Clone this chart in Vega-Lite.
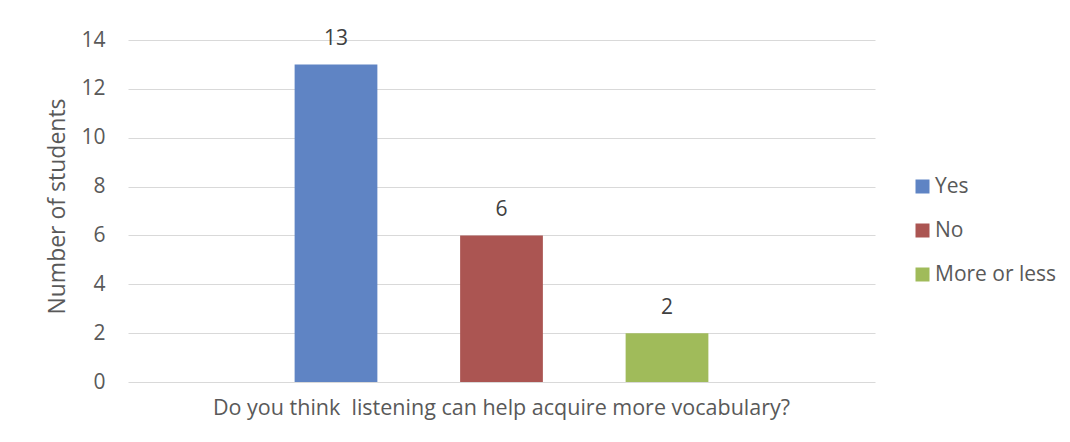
{
  "$schema": "https://vega.github.io/schema/vega-lite/v6.json",
  "width": 747,
  "height": 342,
  "autosize": {"type": "none"},
  "padding": {"left": 128, "top": 40, "right": 195, "bottom": 60},
  "background": "white",
  "config": {
    "font": "Open Sans",
    "view": {"stroke": null},
    "axis": {"labelColor": "#595959", "titleColor": "#595959", "labelFont": "Open Sans", "titleFont": "Open Sans"}
  },
  "data": {
    "values": [
      {"question": "Do you think\u00a0 listening can help acquire more vocabulary?", "answer": "Yes", "students": 13},
      {"question": "Do you think\u00a0 listening can help acquire more vocabulary?", "answer": "No", "students": 6},
      {"question": "Do you think\u00a0 listening can help acquire more vocabulary?", "answer": "More or less", "students": 2}
    ]
  },
  "encoding": {
    "x": {
      "field": "question",
      "type": "nominal",
      "scale": {"paddingInner": 0, "paddingOuter": 0.4027},
      "axis": {
        "title": null,
        "labelAngle": 0,
        "domain": false,
        "ticks": false,
        "labelFontSize": 21.5,
        "labelPadding": 15,
        "labelLimit": 0
      }
    },
    "xOffset": {
      "field": "answer",
      "type": "nominal",
      "sort": ["Yes", "No", "More or less"],
      "scale": {"paddingInner": 0.5, "paddingOuter": 0}
    },
    "y": {
      "field": "students",
      "type": "quantitative",
      "scale": {"domain": [0, 14], "nice": false},
      "axis": {
        "values": [0, 2, 4, 6, 8, 10, 12, 14],
        "title": "Number of students",
        "titleFontSize": 23,
        "titleFontWeight": "normal",
        "titleAngle": -90,
        "titleX": -71,
        "titleY": 166,
        "titleAlign": "center",
        "titleBaseline": "middle",
        "domain": false,
        "ticks": false,
        "labelFontSize": 21,
        "labelPadding": 23,
        "grid": true,
        "gridColor": "#d9d9d9",
        "gridWidth": 1.2
      }
    }
  },
  "layer": [
    {
      "mark": {"type": "bar"},
      "encoding": {
        "color": {
          "field": "answer",
          "type": "nominal",
          "sort": ["Yes", "No", "More or less"],
          "scale": {"domain": ["Yes", "No", "More or less"], "range": ["#5f84c4", "#ab5552", "#a0bb5a"]},
          "legend": {
            "title": null,
            "orient": "none",
            "legendX": 784,
            "legendY": 136,
            "padding": 0,
            "symbolType": "square",
            "symbolSize": 196,
            "symbolStrokeWidth": 0,
            "labelFontSize": 21,
            "labelColor": "#595959",
            "labelOffset": 2,
            "rowPadding": 22,
            "labelLimit": 0
          }
        }
      }
    },
    {
      "mark": {"type": "text", "baseline": "middle", "dy": -25, "fontSize": 21, "color": "#404040"},
      "encoding": {"text": {"field": "students", "type": "quantitative"}}
    }
  ]
}
